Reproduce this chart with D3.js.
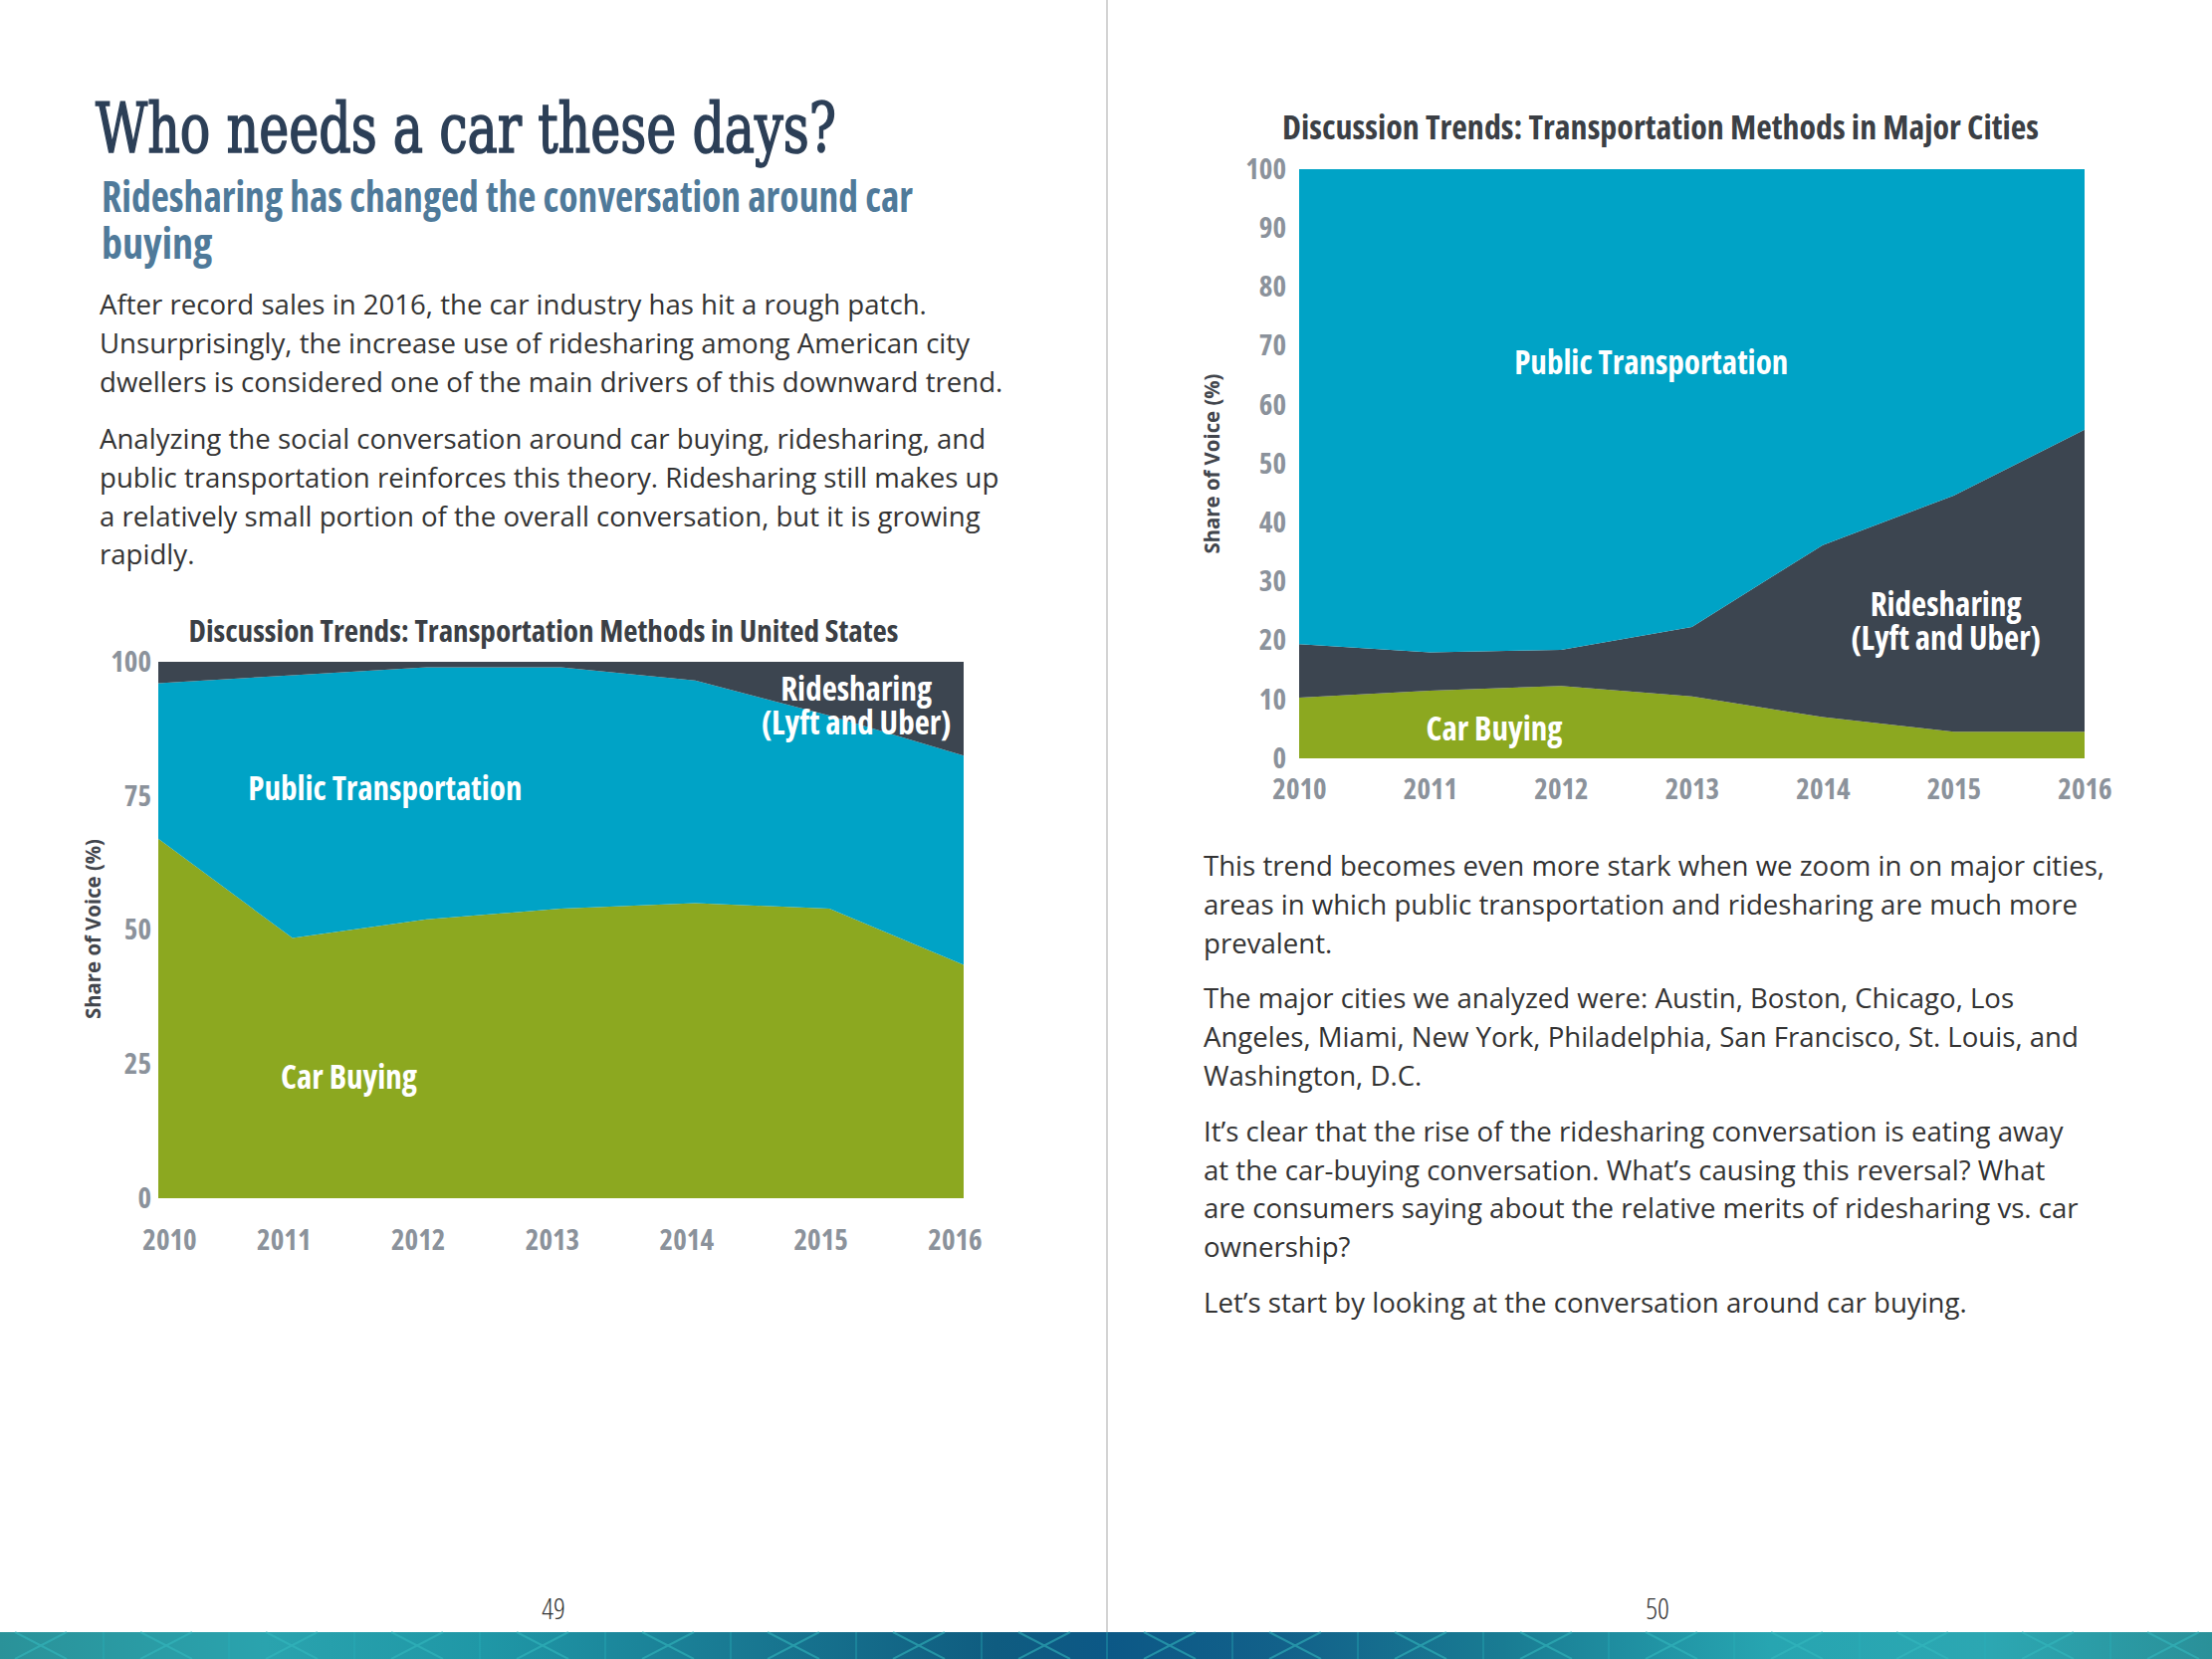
<!DOCTYPE html>
<html>
<head>
<meta charset="utf-8">
<script src="https://cdn.jsdelivr.net/npm/d3@7"></script>
<style>
  html, body { margin: 0; padding: 0; background: #fff; }
  svg { display: block; }
  .cond { font-family: "Open Sans", "Liberation Sans Narrow", sans-serif; font-stretch: 75%; font-weight: 700; }
  .body { font-family: "Open Sans", sans-serif; font-size: 27.6px; fill: #333; }
</style>
</head>
<body>
<svg id="page" width="2222" height="1667"></svg>
<script>
// ── Data ──────────────────────────────────────────────────────────────────────

const years      = [2010, 2011, 2012, 2013, 2014, 2015, 2016];
// United States (share of voice, %)
const usCar      = [67, 48.5, 52, 54, 55, 54, 43.5];
const usPublic   = [29, 49, 47, 45, 41.5, 36, 39];
const usRide     = [4, 2.5, 1, 1, 3.5, 10, 17.5];
// Major cities (share of voice, %)
const cityCar    = [10.3, 11.5, 12.3, 10.5, 7, 4.5, 4.5];
const cityRide   = [9.1, 6.5, 6.1, 11.8, 29.2, 40.1, 51.3];
const cityPublic = [80.6, 82, 81.6, 77.7, 63.8, 55.4, 44.2];

const usTicks    = [0, 25, 50, 75, 100];
const cityTicks  = [0, 10, 20, 30, 40, 50, 60, 70, 80, 90, 100];

const colors = { car: '#8ca820', pub: '#00a3c6', ride: '#3c4550' };

// ── Page text ─────────────────────────────────────────────────────────────────

const para1 = [
  'After record sales in 2016, the car industry has hit a rough patch.',
  'Unsurprisingly, the increase use of ridesharing among American city',
  'dwellers is considered one of the main drivers of this downward trend.'
];
const para2 = [
  'Analyzing the social conversation around car buying, ridesharing, and',
  'public transportation reinforces this theory. Ridesharing still makes up',
  'a relatively small portion of the overall conversation, but it is growing',
  'rapidly.'
];
const paraR = [
  ['This trend becomes even more stark when we zoom in on major cities,',
   'areas in which public transportation and ridesharing are much more',
   'prevalent.'],
  ['The major cities we analyzed were: Austin, Boston, Chicago, Los',
   'Angeles, Miami, New York, Philadelphia, San Francisco, St. Louis, and',
   'Washington, D.C.'],
  ['It\u2019s clear that the rise of the ridesharing conversation is eating away',
   'at the car-buying conversation. What\u2019s causing this reversal? What',
   'are consumers saying about the relative merits of ridesharing vs. car',
   'ownership?'],
  ['Let\u2019s start by looking at the conversation around car buying.']
];

const svg = d3.select('#page');

// ── Headings & paragraphs ─────────────────────────────────────────────────────

svg.append('text')
  .attr('x', 96).attr('y', 153)
  .attr('textLength', 744).attr('lengthAdjust', 'spacingAndGlyphs')
  .style('font-family', '"DejaVu Serif", serif').style('font-stretch', 'condensed')
  .style('font-size', '70px').style('fill', '#2c3f57')
  .style('stroke', '#2c3f57').style('stroke-width', 1.6)
  .text('Who needs a car these days?');

const sub = svg.append('g').attr('class', 'cond').style('fill', '#4f7a9a').style('font-size', '42px');
sub.append('text').attr('x', 102).attr('y', 213)
  .attr('textLength', 815).attr('lengthAdjust', 'spacingAndGlyphs')
  .text('Ridesharing has changed the conversation around car');
sub.append('text').attr('x', 102).attr('y', 260).text('buying');

function paragraph(lines, x, y) {
  lines.forEach((t, i) => {
    svg.append('text').attr('class', 'body').attr('x', x).attr('y', y + i * 38.8).text(t);
  });
}
paragraph(para1, 100, 316);
paragraph(para2, 100, 451);

let py = 880;
paraR.forEach(p => {
  paragraph(p, 1209, py);
  py += p.length * 38.8 + 17;
});

// ── Stacked area chart ────────────────────────────────────────────────────────

function areaChart(o) {
  const table = years.map((yr, i) => ({ year: yr, car: o.car[i], pub: o.pub[i], ride: o.ride[i] }));
  const stack = d3.stack().keys(o.keys)(table);

  const x = d3.scaleLinear().domain([2010, 2016]).range([o.left, o.right]);
  const y = d3.scaleLinear().domain([0, 100]).range([o.bottom, o.top]);

  const g = svg.append('g');

  const area = d3.area()
    .x(d => x(d.data.year))
    .y0(d => y(d[0]))
    .y1(d => y(d[1]));

  g.selectAll('path.layer')
    .data(stack)
    .join('path')
    .attr('class', 'layer')
    .attr('fill', d => colors[d.key])
    .attr('d', area);

  // y axis
  const ya = g.append('g')
    .attr('transform', `translate(${o.left},0)`)
    .call(d3.axisLeft(y).tickValues(o.ticks).tickSize(0).tickPadding(o.yPad).tickFormat(d3.format('d')));
  ya.select('.domain').remove();
  ya.selectAll('text').attr('class', 'cond').style('font-size', '29px').style('fill', '#8b929b');

  // x axis
  const xa = g.append('g')
    .attr('transform', `translate(0,${o.bottom})`)
    .call(d3.axisBottom(x).tickValues(years).tickSize(0).tickPadding(o.xPad).tickFormat(d3.format('d')));
  xa.select('.domain').remove();
  xa.selectAll('text').attr('class', 'cond').style('font-size', '29px').style('fill', '#8b929b')
    .attr('dx', o.xShift || null);

  // title
  g.append('text').attr('class', 'cond')
    .attr('x', o.titleX).attr('y', o.titleY).attr('text-anchor', 'middle')
    .attr('textLength', o.titleW).attr('lengthAdjust', 'spacingAndGlyphs')
    .style('font-size', o.titleSize + 'px').style('fill', '#3b3f45')
    .text(o.title);

  // y label
  g.append('text')
    .attr('transform', `translate(${o.yLabelX},${(o.top + o.bottom) / 2 + o.yLabelDy}) rotate(-90)`)
    .attr('text-anchor', 'middle')
    .attr('textLength', 181).attr('lengthAdjust', 'spacingAndGlyphs')
    .style('font-family', '"Open Sans", sans-serif').style('font-weight', 700)
    .style('font-size', '21px').style('fill', '#41454c')
    .text('Share of Voice (%)');

  // series labels, placed in data coordinates
  o.labels.forEach(l => {
    l.lines.forEach((t, i) => {
      g.append('text').attr('class', 'cond')
        .attr('x', x(l.year)).attr('y', y(l.value) + i * 34)
        .attr('text-anchor', 'middle')
        .style('font-size', '33px').style('fill', '#fff')
        .text(t);
    });
  });
}

areaChart({
  car: usCar, pub: usPublic, ride: usRide,
  keys: ['car', 'pub', 'ride'],
  left: 159, right: 968, top: 665, bottom: 1204,
  ticks: usTicks, yPad: 7, xPad: 31,
  xShift: (d, i) => i === 0 ? '11' : '-9',
  title: 'Discussion Trends: Transportation Methods in United States',
  titleX: 546, titleY: 645, titleW: 713, titleSize: 31,
  yLabelX: 101, yLabelDy: -1,
  labels: [
    { lines: ['Public Transportation'], year: 2011.69, value: 74.3 },
    { lines: ['Car Buying'], year: 2011.42, value: 20.4 },
    { lines: ['Ridesharing', '(Lyft and Uber)'], year: 2015.2, value: 92.8 }
  ]
});

areaChart({
  car: cityCar, pub: cityPublic, ride: cityRide,
  keys: ['car', 'ride', 'pub'],
  left: 1305, right: 2094, top: 170, bottom: 762,
  ticks: cityTicks, yPad: 13, xPad: 20,
  title: 'Discussion Trends: Transportation Methods in Major Cities',
  titleX: 1668, titleY: 140, titleW: 760, titleSize: 34,
  yLabelX: 1225, yLabelDy: 0,
  labels: [
    { lines: ['Public Transportation'], year: 2012.69, value: 65.2 },
    { lines: ['Ridesharing', '(Lyft and Uber)'], year: 2014.94, value: 24.2 },
    { lines: ['Car Buying'], year: 2011.49, value: 3.0 }
  ]
});

// ── Page furniture ────────────────────────────────────────────────────────────

svg.append('line').attr('x1', 1112).attr('x2', 1112).attr('y1', 0).attr('y2', 1640)
  .attr('stroke', '#d4d4d4').attr('stroke-width', 2);

[['49', 556], ['50', 1665]].forEach(([t, cx]) => {
  svg.append('text').attr('x', cx).attr('y', 1627).attr('text-anchor', 'middle')
    .style('font-family', '"Open Sans", sans-serif').style('font-stretch', '75%')
    .style('font-weight', 300).style('font-size', '29px').style('fill', '#333')
    .text(t);
});

// footer band
const defs = svg.append('defs');
const lg = defs.append('linearGradient').attr('id', 'band').attr('x1', 0).attr('x2', 1);
[['0%', '#2a9299'], ['12%', '#2aa3ae'], ['22%', '#1f97a6'], ['33%', '#197a93'],
 ['45%', '#0f5c80'], ['50%', '#0c5886'], ['58%', '#12618a'], ['68%', '#197c93'],
 ['80%', '#27a5b1'], ['90%', '#2ca7b2'], ['100%', '#2a9099']]
  .forEach(([o, c]) => lg.append('stop').attr('offset', o).attr('stop-color', c));

const band = svg.append('g');
band.append('rect').attr('x', 0).attr('y', 1640).attr('width', 2222).attr('height', 27).attr('fill', 'url(#band)');
const tiles = d3.range(-9, 10).map(k => 1112 + k * 126);
band.selectAll('line.v').data(tiles).join('line').attr('class', 'v')
  .attr('x1', d => d).attr('x2', d => d).attr('y1', 1640).attr('y2', 1667)
  .attr('stroke', '#2bb3bb').attr('stroke-opacity', 0.45).attr('stroke-width', 1.5);
band.selectAll('path.x').data(tiles).join('path').attr('class', 'x')
  .attr('d', d => { const c = d + 63; return `M${c - 26},1640L${c + 26},1667M${c + 26},1640L${c - 26},1667`; })
  .attr('stroke', '#35b9c0').attr('stroke-opacity', 0.55).attr('stroke-width', 2).attr('fill', 'none');
</script>
</body>
</html>
